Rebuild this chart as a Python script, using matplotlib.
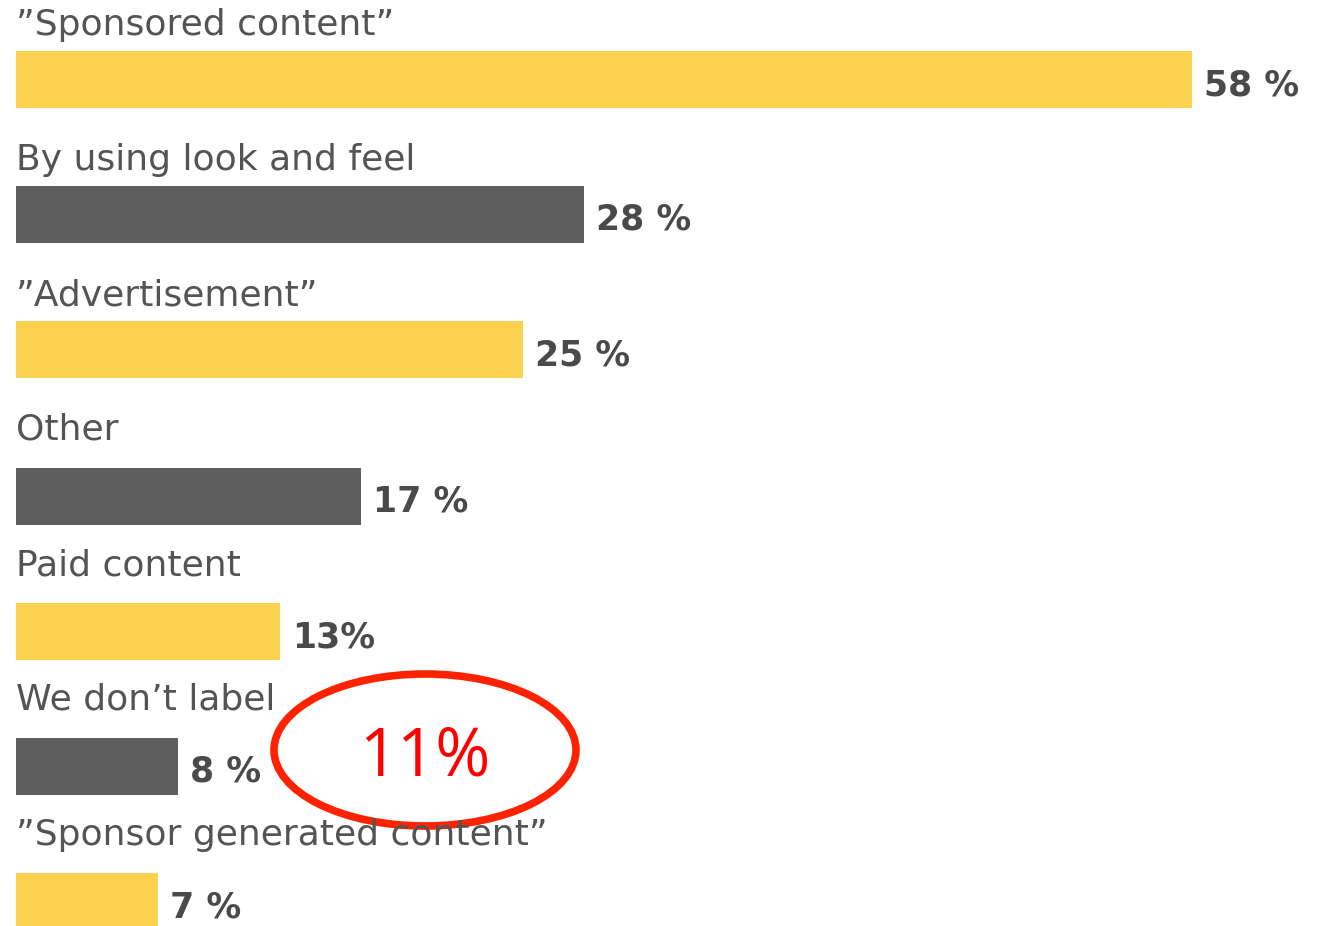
import matplotlib
matplotlib.use("Agg")
import matplotlib.pyplot as plt
from matplotlib.patches import Ellipse

labels = ["\u201dSponsored content\u201d", "By using look and feel", "\u201dAdvertisement\u201d",
          "Other", "Paid content", "We don\u2019t label", "\u201dSponsor generated content\u201d"]
values = [58, 28, 25, 17, 13, 8, 7]
value_text = ["58 %", "28 %", "25 %", "17 %", "13%", "8 %", "7 %"]
highlight = "11%"

YELLOW = "#FBD250"
GREY = "#5E5E5E"
colors = [YELLOW if i % 2 == 0 else GREY for i in range(len(values))]

W, H = 1332, 926
PX_PER_PCT = 20.28
fig = plt.figure(figsize=(W / 100, H / 100), dpi=100)
ax = fig.add_axes([0, 0, 1, 1])
ax.set_xlim(-16 / PX_PER_PCT, (W - 16) / PX_PER_PCT)
ax.set_ylim(H, 0)
ax.axis("off")

row = 135
bar_h = 57
for i, (lab, v, vt, c) in enumerate(zip(labels, values, value_text, colors)):
    top = 51 + row * i + (12 if i >= 3 else 0)
    ax.barh(top + bar_h / 2, v, height=bar_h, left=0, color=c, lw=0)
    ax.text(0, 35 + row * i, lab, fontsize=26, family="DejaVu Sans", color="#545454",
            va="baseline", ha="left")
    ax.text(v + 12 / PX_PER_PCT, top + 44, vt, fontsize=25, family="DejaVu Sans",
            fontweight="bold", color="#4A4A4A", va="baseline", ha="left")

# red callout round the corrected figure
cx, cy = 425 / PX_PER_PCT - 16 / PX_PER_PCT, 750
ax.add_patch(Ellipse((cx, cy), 302 / PX_PER_PCT, 152, fill=False,
                     edgecolor="#FF2200", lw=5.5))
ax.text(cx, cy + 8, highlight, fontsize=48, family="Open Sans", color="#FF0000",
        ha="center", va="center")

fig.savefig("out.png", dpi=100)
